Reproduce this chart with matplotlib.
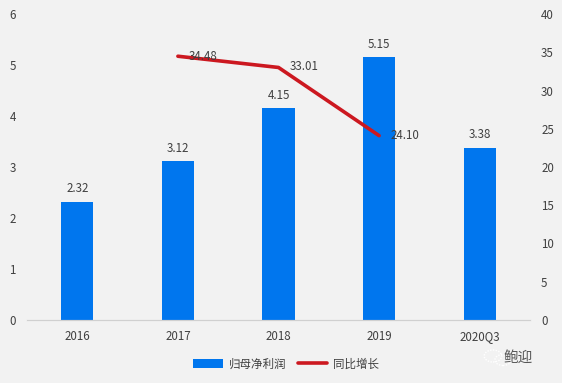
import numpy as np
import matplotlib
matplotlib.use('Agg')
import matplotlib.pyplot as plt
from matplotlib.patches import Circle

plt.rcParams['font.family'] = ['Noto Sans CJK SC', 'DejaVu Sans']

# Data
years = ['2016', '2017', '2018', '2019', '2020Q3']
profit = [2.32, 3.12, 4.15, 5.15, 3.38]
growth = [None, 34.48, 33.01, 24.10, None]
growth_labels = ['34.48', '33.01', '24.10']
left_ticks = [0, 1, 2, 3, 4, 5, 6]
right_ticks = [0, 5, 10, 15, 20, 25, 30, 35, 40]

bg = '#f2f2f2'
text_color = '#404040'
fs = 8.3

W, H = 562, 383
fig = plt.figure(figsize=(W / 100, H / 100), dpi=100, facecolor=bg)
ax = fig.add_axes([27 / W, 1 - 320 / H, 503 / W, 306 / H], facecolor=bg)

x = np.arange(len(years))

# Bars on left axis
bars = ax.bar(x, profit, width=0.32, color='#0076ee', label='归母净利润', zorder=2)
for xi, v in zip(x, profit):
    ax.annotate(f'{v:.2f}', (xi, v), xytext=(0, 4.5), textcoords='offset points',
                ha='center', va='bottom', fontsize=fs, color=text_color)

ax.set_xlim(-0.5, 4.5)
ax.set_ylim(0, 6)
ax.set_xticks(x)
ax.set_xticklabels(years)
ax.set_yticks(left_ticks)
ax.tick_params(axis='x', length=0, pad=7, labelsize=fs, labelcolor=text_color)
ax.tick_params(axis='y', length=0, pad=8, labelsize=fs, labelcolor=text_color)

# Growth line on right axis
ax2 = ax.twinx()
gx = [i for i, g in enumerate(growth) if g is not None]
gy = [g for g in growth if g is not None]
line, = ax2.plot(gx, gy, color='#cc1820', lw=2.6, label='同比增长', zorder=3,
                 solid_capstyle='round')
offsets = [(8, 0), (8, 1), (8, 0)]
for xi, yi, lab, off in zip(gx, gy, growth_labels, offsets):
    ax2.annotate(lab, (xi, yi), xytext=off, textcoords='offset points',
                 ha='left', va='center', fontsize=fs, color=text_color, zorder=4)
ax2.set_ylim(0, 40)
ax2.set_yticks(right_ticks)
ax2.tick_params(axis='y', length=0, pad=8, labelsize=fs, labelcolor=text_color)

for a in (ax, ax2):
    for side in ('top', 'left', 'right'):
        a.spines[side].set_visible(False)
    a.spines['bottom'].set_color('#d0d0d0')
    a.spines['bottom'].set_linewidth(0.8)

fig.legend([bars, line], ['归母净利润', '同比增长'], loc='center',
           bbox_to_anchor=(286 / W, 1 - 364 / H), ncol=2, frameon=False,
           fontsize=fs, labelcolor=text_color, columnspacing=1.0,
           handlelength=2.6, handletextpad=0.5)

# Watermark at lower right: chat-bubble icon and name
fig.text(518 / W, 1 - 358 / H, '鲍迎', fontsize=10.5, color='#555555',
         ha='center', va='center')
for cx, cy, r in [(493, 356, 6), (503, 360, 5.5)]:
    fig.add_artist(Circle((cx / W, 1 - cy / H), r / H, transform=fig.transFigure,
                          fill=False, ec='#ffffff', lw=1.0, ls=(0, (1, 1))))

fig.savefig('out.png', dpi=100, facecolor=bg)
